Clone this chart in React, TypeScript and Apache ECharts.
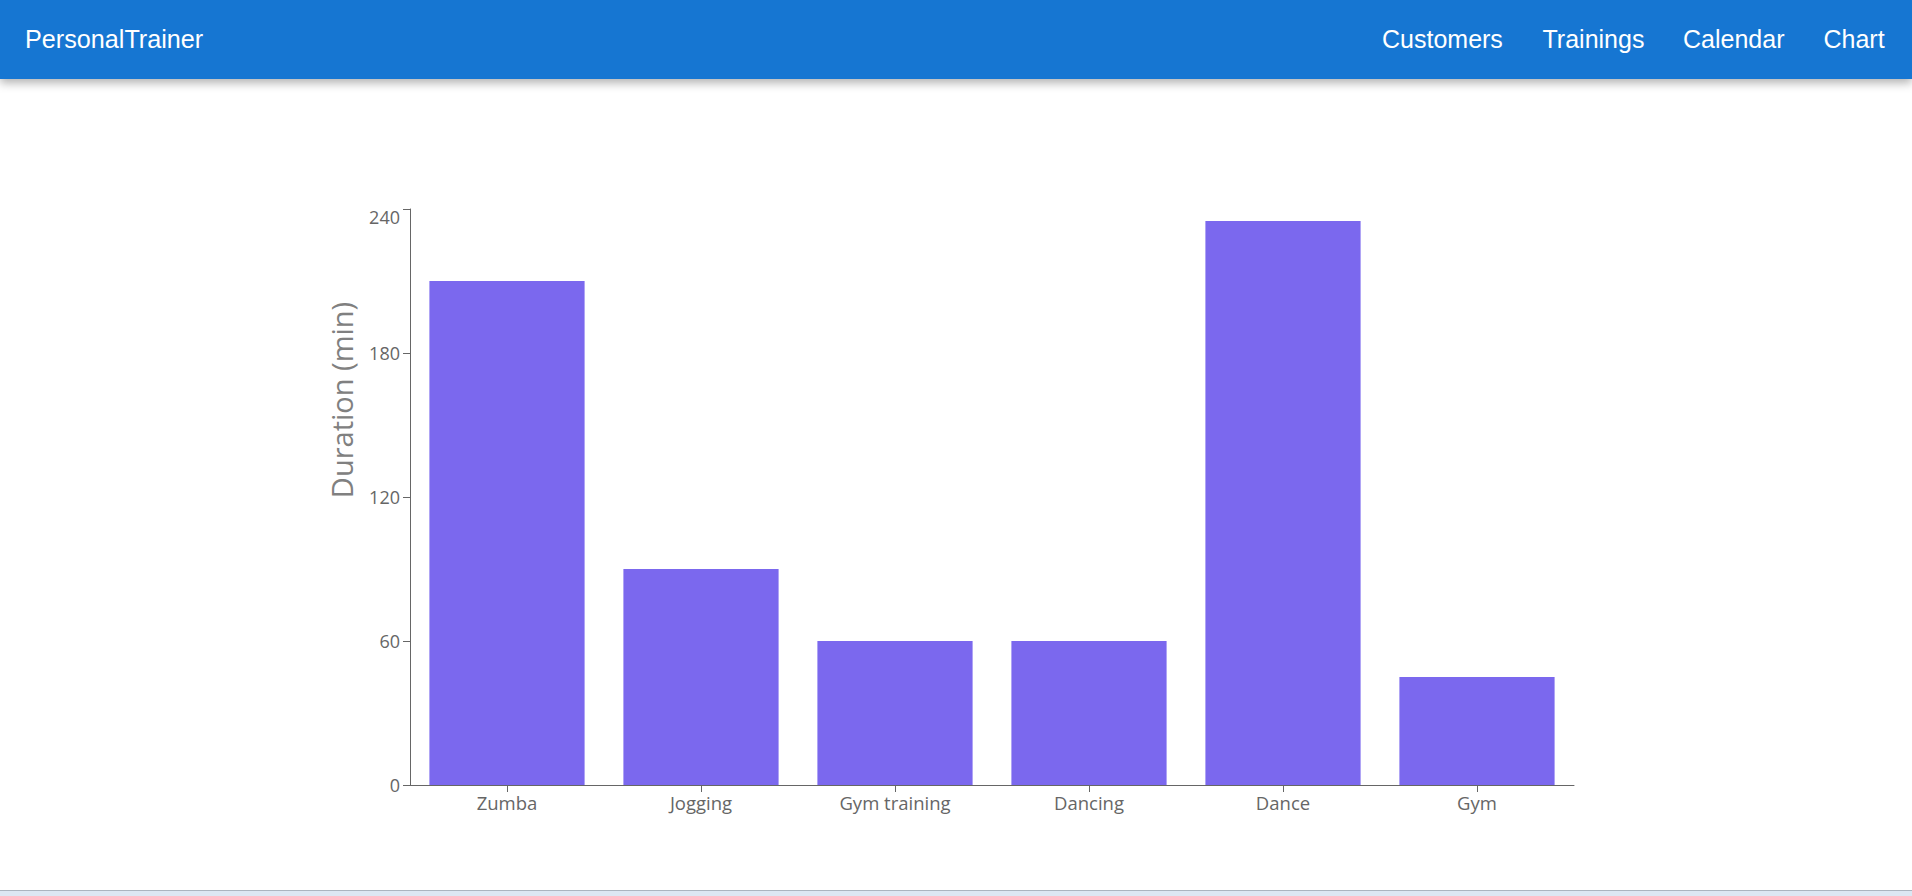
import React, { useEffect, useRef } from "react";
import * as echarts from "echarts";

const categories = ["Zumba", "Jogging", "Gym training", "Dancing", "Dance", "Gym"];
const durations = [210, 90, 60, 60, 235, 45];
const yTicks = { min: 0, max: 240, interval: 60 };
const navItems = ["Customers", "Trainings", "Calendar", "Chart"];
const navX = [1382, 1542.5, 1683, 1823.5];

export default function App() {
  const ref = useRef<HTMLDivElement>(null);
  useEffect(() => {
    if (!ref.current) return;
    const chart = echarts.init(ref.current, undefined, { renderer: "svg" });
    const tickFont = "'Open Sans', 'Noto Sans', sans-serif";
    chart.setOption({
      animation: false,
      backgroundColor: "#ffffff",
      grid: { left: 410, top: 209, width: 1164, height: 576, containLabel: false },
      xAxis: {
        type: "category",
        data: categories,
        axisLine: { show: true, lineStyle: { color: "#666666", width: 1 } },
        axisTick: { show: true, alignWithLabel: true, length: 7, lineStyle: { color: "#666666" } },
        axisLabel: { color: "#666666", fontSize: 18.5, fontFamily: tickFont, margin: 8 },
        splitLine: { show: false },
      },
      yAxis: {
        type: "value",
        min: yTicks.min,
        max: yTicks.max,
        interval: yTicks.interval,
        name: "Duration (min)",
        nameLocation: "middle",
        nameRotate: 90,
        nameGap: 54,
        nameTextStyle: {
          color: "#808080",
          fontSize: 29,
          fontFamily: tickFont,
          padding: [0, 0, 0, 194],
        },
        axisLine: { show: true, lineStyle: { color: "#666666", width: 1 } },
        axisTick: { show: true, length: 7, lineStyle: { color: "#666666" } },
        axisLabel: {
          color: "#666666",
          fontSize: 18,
          fontFamily: tickFont,
          margin: 10,
          formatter: (v: number) => (v === yTicks.max ? "{top|" + v + "}" : String(v)),
          rich: {
            top: { color: "#666666", fontSize: 18, fontFamily: tickFont, padding: [15, 0, 0, 0] },
          },
        },
        splitLine: { show: false },
      },
      series: [
        {
          type: "bar",
          data: durations,
          barCategoryGap: "20%",
          itemStyle: { color: "#7B68EE" },
        },
      ],
      graphic: [
        {
          type: "rect",
          shape: { x: 0, y: 0, width: 1912, height: 79 },
          style: {
            fill: "#1976d2",
            shadowBlur: 10,
            shadowOffsetY: 4,
            shadowColor: "rgba(0,0,0,0.3)",
          },
          z: 10,
        },
        {
          type: "text",
          x: 25,
          y: 39,
          style: {
            text: "PersonalTrainer",
            fill: "#ffffff",
            fontSize: 25.2,
            fontFamily: "'Liberation Sans', Arial, sans-serif",
            verticalAlign: "middle",
            align: "left",
          },
          z: 11,
        },
        ...navItems.map((t, i) => ({
          type: "text",
          x: navX[i],
          y: 39,
          style: {
            text: t,
            fill: "#ffffff",
            fontSize: 25,
            fontFamily: "'Liberation Sans', Arial, sans-serif",
            verticalAlign: "middle",
            align: "left",
          },
          z: 11,
        })),
        {
          type: "rect",
          shape: { x: 0, y: 890, width: 1912, height: 1 },
          style: { fill: "#aab4bf" },
          z: 10,
        },
        {
          type: "rect",
          shape: { x: 0, y: 891, width: 1912, height: 5 },
          style: { fill: "#dce7f3" },
          z: 10,
        },
      ],
    });
    return () => chart.dispose();
  }, []);
  return (
    <div
      ref={ref}
      style={{ position: "absolute", left: 0, top: 0, width: 1912, height: 896, background: "#fff" }}
    />
  );
}
